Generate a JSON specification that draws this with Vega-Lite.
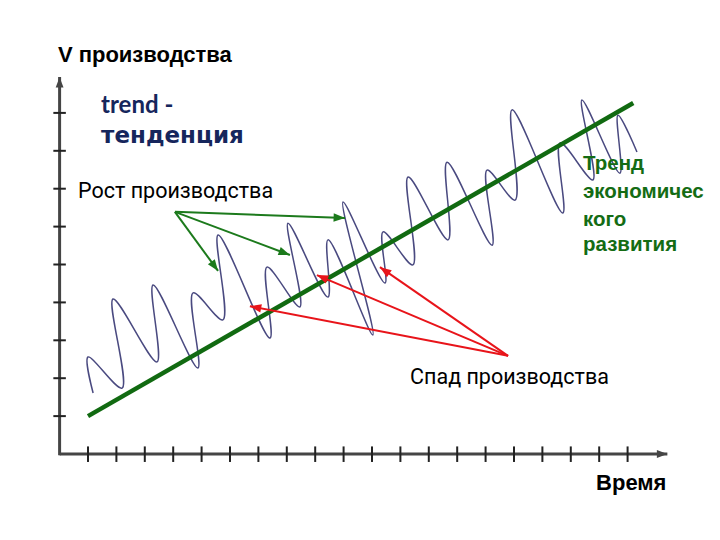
{
  "$schema": "https://vega.github.io/schema/vega-lite/v6.json",
  "width": 720,
  "height": 540,
  "padding": 0,
  "autosize": {"type": "fit", "contains": "padding"},
  "background": "white",
  "config": {"view": {"stroke": null}},
  "datasets": {
    "wave": [
      {"i": 1, "t": 1.18, "v": 1.61}, {"i": 2, "t": 1.0, "v": 2.56}, {"i": 3, "t": 2.2, "v": 1.74},
      {"i": 4, "t": 1.88, "v": 4.09}, {"i": 5, "t": 3.43, "v": 2.43}, {"i": 6, "t": 3.29, "v": 4.46},
      {"i": 7, "t": 4.87, "v": 2.27}, {"i": 8, "t": 4.7, "v": 4.25}, {"i": 9, "t": 5.75, "v": 3.54},
      {"i": 10, "t": 5.58, "v": 5.78}, {"i": 11, "t": 7.41, "v": 3.06}, {"i": 12, "t": 7.3, "v": 4.93},
      {"i": 13, "t": 8.46, "v": 3.88}, {"i": 14, "t": 8.04, "v": 6.09}, {"i": 15, "t": 9.45, "v": 4.14},
      {"i": 16, "t": 9.45, "v": 5.65}, {"i": 17, "t": 11.03, "v": 3.14}, {"i": 18, "t": 9.98, "v": 6.65},
      {"i": 19, "t": 11.46, "v": 4.51}, {"i": 20, "t": 11.39, "v": 5.86}, {"i": 21, "t": 12.44, "v": 4.99},
      {"i": 22, "t": 12.27, "v": 7.31}, {"i": 23, "t": 13.68, "v": 5.65}, {"i": 24, "t": 13.64, "v": 7.7},
      {"i": 25, "t": 15.23, "v": 5.51}, {"i": 26, "t": 15.05, "v": 7.49}, {"i": 27, "t": 16.04, "v": 6.7},
      {"i": 28, "t": 15.93, "v": 9.08}, {"i": 29, "t": 17.72, "v": 6.36}, {"i": 30, "t": 17.62, "v": 8.21},
      {"i": 31, "t": 18.78, "v": 7.23}, {"i": 32, "t": 18.39, "v": 9.34}, {"i": 33, "t": 19.73, "v": 7.41},
      {"i": 34, "t": 19.66, "v": 8.94}, {"i": 35, "t": 20.33, "v": 7.97}
    ],
    "trend": [{"t": 1.0, "v": 1.0}, {"t": 20.2, "v": 9.26}],
    "xticks": [{"t": 1}, {"t": 2}, {"t": 3}, {"t": 4}, {"t": 5}, {"t": 6}, {"t": 7}, {"t": 8}, {"t": 9}, {"t": 10},
      {"t": 11}, {"t": 12}, {"t": 13}, {"t": 14}, {"t": 15}, {"t": 16}, {"t": 17}, {"t": 18}, {"t": 19}, {"t": 20}],
    "yticks": [{"v": 1}, {"v": 2}, {"v": 3}, {"v": 4}, {"v": 5}, {"v": 6}, {"v": 7}, {"v": 8}, {"v": 9}],
    "axislines": [
      {"axis": "time", "sx": 0, "sy": 0, "t": 21.4, "v": 0},
      {"axis": "volume", "sx": 0, "sy": -0.03, "t": 0, "v": 9.95}
    ],
    "arrows": [
      {"kind": "рост", "sx": 4.06, "sy": 6.39, "t": 5.58, "v": 4.83},
      {"kind": "рост", "sx": 4.06, "sy": 6.39, "t": 8.11, "v": 5.25},
      {"kind": "рост", "sx": 4.06, "sy": 6.39, "t": 10.05, "v": 6.23},
      {"kind": "спад", "sx": 15.79, "sy": 2.59, "t": 11.28, "v": 4.93},
      {"kind": "спад", "sx": 15.79, "sy": 2.59, "t": 9.06, "v": 4.72},
      {"kind": "спад", "sx": 15.79, "sy": 2.59, "t": 6.7, "v": 3.9}
    ]
  },
  "layer": [
    {
      "data": {"name": "wave"},
      "mark": {"type": "line", "interpolate": "catmull-rom", "color": "#4a4a80", "strokeWidth": 1.5},
      "encoding": {
        "x": {"field": "t", "type": "quantitative", "scale": {"domain": [-2.0986, 23.254], "nice": false, "zero": false}, "axis": null},
        "y": {"field": "v", "type": "quantitative", "scale": {"domain": [-2.269, 11.979], "nice": false, "zero": false}, "axis": null},
        "order": {"field": "i", "type": "quantitative"}
      }
    },
    {
      "data": {"name": "axislines"},
      "mark": {"type": "rule", "color": "#454545", "strokeWidth": 3},
      "encoding": {
        "x": {"field": "sx", "type": "quantitative"},
        "y": {"field": "sy", "type": "quantitative"},
        "x2": {"field": "t"},
        "y2": {"field": "v"}
      }
    },
    {
      "data": {"name": "axislines"},
      "transform": [{"calculate": "atan2((datum.t-datum.sx)*28.4,(datum.v-datum.sy)*37.9)*180/PI", "as": "ang"}],
      "mark": {"type": "point", "shape": "M0,0L-0.75,2L0.75,2Z", "filled": true, "opacity": 1, "size": 110},
      "encoding": {
        "x": {"field": "t", "type": "quantitative"},
        "y": {"field": "v", "type": "quantitative"},
        "angle": {"field": "ang", "type": "quantitative", "scale": null},
        "color": {"value": "#454545"}
      }
    },
    {
      "data": {"name": "xticks"},
      "mark": {"type": "rule", "color": "#222222", "strokeWidth": 2},
      "encoding": {
        "x": {"field": "t", "type": "quantitative"},
        "y": {"datum": -0.21},
        "y2": {"datum": 0.2}
      }
    },
    {
      "data": {"name": "yticks"},
      "mark": {"type": "rule", "color": "#222222", "strokeWidth": 2},
      "encoding": {
        "y": {"field": "v", "type": "quantitative"},
        "x": {"datum": -0.22},
        "x2": {"datum": 0.22}
      }
    },
    {
      "data": {"name": "trend"},
      "mark": {"type": "line", "color": "#116a11", "strokeWidth": 4.5},
      "encoding": {
        "x": {"field": "t", "type": "quantitative"},
        "y": {"field": "v", "type": "quantitative"}
      }
    },
    {
      "data": {"name": "arrows"},
      "mark": {"type": "rule", "strokeWidth": 2},
      "encoding": {
        "x": {"field": "sx", "type": "quantitative"},
        "y": {"field": "sy", "type": "quantitative"},
        "x2": {"field": "t"},
        "y2": {"field": "v"},
        "color": {"field": "kind", "type": "nominal", "scale": {"domain": ["рост", "спад"], "range": ["#1c7a1c", "#e8141a"]}, "legend": null}
      }
    },
    {
      "data": {"name": "arrows"},
      "transform": [{"calculate": "atan2((datum.t-datum.sx)*28.4,(datum.v-datum.sy)*37.9)*180/PI", "as": "ang"}],
      "mark": {"type": "point", "shape": "M0,0L-0.75,2L0.75,2Z", "filled": true, "opacity": 1, "size": 130},
      "encoding": {
        "x": {"field": "t", "type": "quantitative"},
        "y": {"field": "v", "type": "quantitative"},
        "angle": {"field": "ang", "type": "quantitative", "scale": null},
        "color": {"field": "kind", "type": "nominal", "scale": {"domain": ["рост", "спад"], "range": ["#1c7a1c", "#e8141a"]}, "legend": null}
      }
    },
    {
      "data": {"values": [{"t": -0.06, "v": 10.34, "label": "V производства"}]},
      "mark": {"type": "text", "align": "left", "baseline": "alphabetic", "font": "Liberation Sans", "fontWeight": "bold", "fontSize": 22, "color": "#000000"},
      "encoding": {"x": {"field": "t", "type": "quantitative"}, "y": {"field": "v", "type": "quantitative"}, "text": {"field": "label"}}
    },
    {
      "data": {"values": [{"t": 1.46, "v": 9.0, "label": "trend -"}]},
      "mark": {"type": "text", "align": "left", "baseline": "alphabetic", "font": "Lato", "fontWeight": "bold", "fontSize": 24, "color": "#16265c"},
      "encoding": {"x": {"field": "t", "type": "quantitative"}, "y": {"field": "v", "type": "quantitative"}, "text": {"field": "label"}}
    },
    {
      "data": {"values": [{"t": 1.46, "v": 8.21, "label": "тенденция"}]},
      "mark": {"type": "text", "align": "left", "baseline": "alphabetic", "font": "DejaVu Sans", "fontWeight": "bold", "fontSize": 23, "color": "#16265c"},
      "encoding": {"x": {"field": "t", "type": "quantitative"}, "y": {"field": "v", "type": "quantitative"}, "text": {"field": "label"}}
    },
    {
      "data": {"values": [{"t": 0.65, "v": 6.75, "label": "Рост производства"}, {"t": 12.34, "v": 1.85, "label": "Спад производства"}]},
      "mark": {"type": "text", "align": "left", "baseline": "alphabetic", "font": "Roboto", "fontSize": 21.5, "color": "#000000"},
      "encoding": {"x": {"field": "t", "type": "quantitative"}, "y": {"field": "v", "type": "quantitative"}, "text": {"field": "label"}}
    },
    {
      "data": {"values": [{"t": 18.89, "v": -0.95, "label": "Время"}]},
      "mark": {"type": "text", "align": "left", "baseline": "alphabetic", "font": "Liberation Sans", "fontWeight": "bold", "fontSize": 22, "color": "#000000"},
      "encoding": {"x": {"field": "t", "type": "quantitative"}, "y": {"field": "v", "type": "quantitative"}, "text": {"field": "label"}}
    },
    {
      "data": {"values": [
        {"t": 18.43, "v": 7.49, "label": "Тренд"},
        {"t": 18.43, "v": 6.75, "label": "экономичес"},
        {"t": 18.43, "v": 6.02, "label": "кого"},
        {"t": 18.43, "v": 5.36, "label": "развития"}
      ]},
      "mark": {"type": "text", "align": "left", "baseline": "alphabetic", "font": "Liberation Sans", "fontWeight": "bold", "fontSize": 20.5, "color": "#146c14"},
      "encoding": {"x": {"field": "t", "type": "quantitative"}, "y": {"field": "v", "type": "quantitative"}, "text": {"field": "label"}}
    }
  ]
}
